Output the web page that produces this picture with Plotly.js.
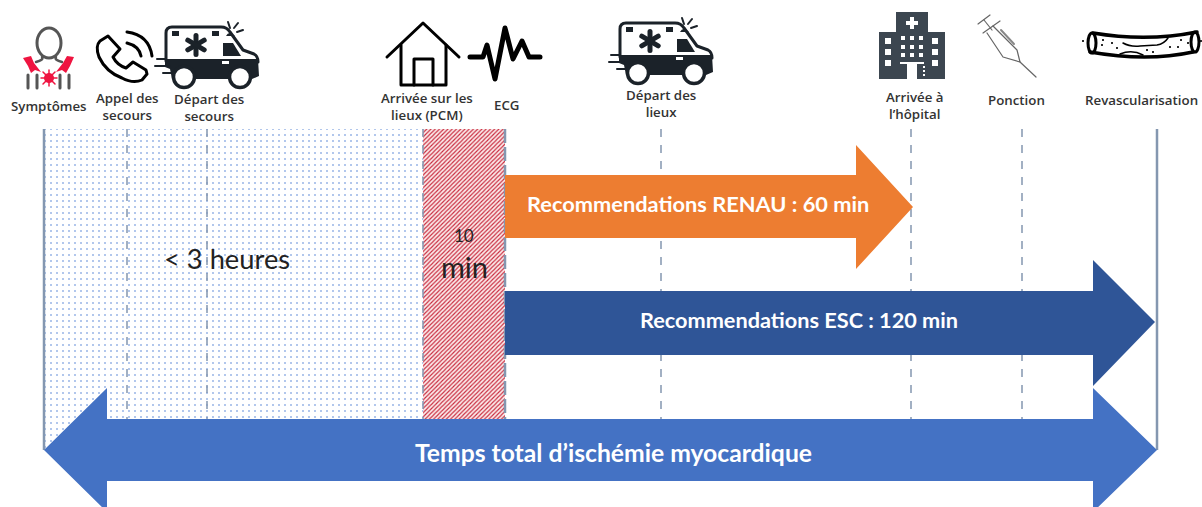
<!DOCTYPE html>
<html><head><meta charset="utf-8">
<script src="https://cdn.plot.ly/plotly-3.0.1.min.js"></script>
<style>html,body{margin:0;padding:0;background:#fff}#c{width:1202px;height:507px}</style>
</head><body><div id="c"></div>
<script>
// ---- data ----
const milestoneNames = ['Symptômes','Appel des<br>secours','Départ des<br>secours','Arrivée sur les<br>lieux (PCM)','ECG','Départ des<br>lieux','Arrivée à<br>l’hôpital','Ponction','Revascularisation'];
const milestoneLabelX = [49,127,209,427,507,661,915,1016,1141];
const milestoneLabelY = [106,106,107,106,105,103,105,100,100];
const timelineX = [44,127,207,423,505,661,911,1022,1157];
const timelineSolid = [true,false,false,false,false,false,false,false,true];
const timelineEnd = [450,419,419,419,419,419,419,419,450];
const arrowRenauX = [505,856,856,913,856,856,505,505];
const arrowRenauY = [175,175,145,207,269,238,238,175];
const arrowEscX = [505,1093,1093,1155,1093,1093,505,505];
const arrowEscY = [291,291,260,322,386,355,355,291];
const arrowTotalX = [44,107,107,1093,1093,1157,1093,1093,107,107,44];
const arrowTotalY = [450,388,419,419,388,450,512,481,481,512,450];
const textRenau = 'Recommendations RENAU : 60 min';
const textEsc = 'Recommendations ESC : 120 min';
const textTotal = 'Temps total d’ischémie myocardique';

// ---- helpers ----
const DARK='#1b2229', ICON='#000';
const shapes=[];
function p(path,o){o=o||{};shapes.push({type:'path',xref:'x',yref:'y',layer:'above',path:path,
  fillcolor:o.fill||'rgba(0,0,0,0)',line:{color:o.stroke||'rgba(0,0,0,0)',width:o.w||0}});}
function ell(cx,cy,rx,ry,o){const k=.5523;p(`M${cx-rx},${cy} C${cx-rx},${cy-k*ry} ${cx-k*rx},${cy-ry} ${cx},${cy-ry} C${cx+k*rx},${cy-ry} ${cx+rx},${cy-k*ry} ${cx+rx},${cy} C${cx+rx},${cy+k*ry} ${cx+k*rx},${cy+ry} ${cx},${cy+ry} C${cx-k*rx},${cy+ry} ${cx-rx},${cy+k*ry} ${cx-rx},${cy} Z`,o);}
function rect(x0,y0,x1,y1,o){p(`M${x0},${y0} L${x1},${y0} L${x1},${y1} L${x0},${y1} Z`,o);}
function ambulance(dx,dy){
  const X=x=>x+dx,Y=y=>y+dy;
  p(`M${X(166)},${Y(62)} L${X(166)},${Y(34)} Q${X(166)},${Y(28)} ${X(172)},${Y(28)} L${X(221)},${Y(28)} Q${X(227)},${Y(28)} ${X(230)},${Y(33)} L${X(243)},${Y(51)} L${X(254)},${Y(55)} Q${X(258)},${Y(57)} ${X(258)},${Y(63)}`,{stroke:DARK,w:3});
  p(`M${X(165)},${Y(60)} L${X(258)},${Y(60)} L${X(259)},${Y(77)} L${X(252)},${Y(80)} L${X(172)},${Y(80)} L${X(170)},${Y(70)} L${X(165)},${Y(68)} Z`,{fill:DARK});
  rect(X(222),Y(62),X(229),Y(65),{fill:'#fff'});
  rect(X(172),Y(32),X(179),Y(37),{fill:DARK});
  rect(X(212),Y(32),X(219),Y(37),{fill:DARK});
  p(`M${X(223)},${Y(44)} L${X(233)},${Y(44)} L${X(241)},${Y(57)} L${X(223)},${Y(57)} Z`,{fill:DARK});
  p(`M${X(226)},${Y(37)} Q${X(229)},${Y(31)} ${X(235)},${Y(37)} Z`,{fill:DARK});
  ell(X(184),Y(78),10.5,10.5,{fill:'#fff',stroke:DARK,w:3.5});
  ell(X(240),Y(78),10.5,10.5,{fill:'#fff',stroke:DARK,w:3.5});
  [[0,-9.5],[8.2,-4.8],[8.2,4.8]].forEach(v=>p(`M${X(196+v[0])},${Y(46+v[1])} L${X(196-v[0])},${Y(46-v[1])}`,{stroke:DARK,w:5}));
  [[228,23,230,29],[238,24,234,29],[243,31,237,33]].forEach(s=>p(`M${X(s[0])},${Y(s[1])} L${X(s[2])},${Y(s[3])}`,{stroke:DARK,w:2}));
  [[157,60,165,60],[155,67,170,67],[163,74,172,74]].forEach(s=>p(`M${X(s[0])},${Y(s[1])} L${X(s[2])},${Y(s[3])}`,{stroke:DARK,w:2}));
}
// person
const GRAY='#555', RED='#EF1440';
ell(49,43,12,15,{stroke:GRAY,w:3});
p('M42,57 Q44,60 36,62',{stroke:GRAY,w:2.5});p('M56,57 Q54,60 62,62',{stroke:GRAY,w:2.5});
[28,37,60,69].forEach(x=>p(`M${x},75 L${x},88`,{stroke:GRAY,w:3}));
p('M23,58 L31,56 L34,63 L41,72 L35,70 L31,73 L28,66 Z',{fill:RED});
p('M74,57 L67,56 L63,63 L56,72 L62,70 L66,73 L70,66 Z',{fill:RED});
ell(49,78,5,5,{fill:RED});
[[0,-8],[6,-6],[8,0],[6,6],[0,8],[-6,6],[-8,0],[-6,-6]].forEach(v=>p(`M49,78 L${49+v[0]},${78+v[1]}`,{stroke:RED,w:1.5}));
// phone
p('M108,36 L100,41 Q95,46 99,57 Q106,72 122,78 Q133,84 142,80 L147,74 L146,70 L133,62 L126,68 Q117,65 113,57 L120,49 Z',{stroke:ICON,w:3});
p('M127,32 Q149,35 152,56',{stroke:ICON,w:3});
p('M127,43 Q139,46 141,56',{stroke:ICON,w:3});
// ambulances
ambulance(0,-1);
ambulance(454,-5);
// house
p('M387,57 L423,23 L459,57',{stroke:ICON,w:3});
p('M401,45 L401,85 L446,85 L446,45',{stroke:ICON,w:3});
p('M414,85 L414,59 L433,59 L433,85',{stroke:ICON,w:3});
// ECG
p('M470,57 L483,57 L487,45 L495,79 L505,28 L513,59 L522,41 L529,57 L540,57',{stroke:ICON,w:5});
// hospital
const HOSP='#3c4650';
rect(896,12,928,79,{fill:HOSP});rect(879,32,945,79,{fill:HOSP});
rect(910,17,914,29,{fill:'#fff'});rect(906,21,918,25,{fill:'#fff'});
[888,935].forEach(x=>[41,52,63].forEach(y=>rect(x-3,y-3,x+3,y+3,{fill:'#fff'})));
[903,912,921].forEach(x=>[38,47,55].forEach(y=>rect(x-2,y-2,x+2,y+2,{fill:'#fff'})));
rect(907,64,917,79,{fill:'#fff'});rect(900,62,924,64,{fill:'#fff'});
[66,70,74].forEach(y=>rect(923,y,925,y+2,{fill:'#fff'}));
// syringe
const SY='#666';
p('M978,24 L990,15',{stroke:SY,w:1.2});p('M984,20 L992,30',{stroke:SY,w:1.2});p('M983,33 L1000,21',{stroke:SY,w:1.2});
p('M993,26 L1017,50 L1020,62 L1003,57 L987,33',{stroke:SY,w:1.2});p('M1020,62 L1036,77',{stroke:SY,w:1.2});
p('M1001,30 L1014,44',{stroke:'#888',w:2});
// artery
p('M1093,33 Q1147,42 1197,32',{stroke:ICON,w:3.5});
p('M1090,52 Q1147,62 1193,52',{stroke:ICON,w:3.5});
ell(1092,43,4,10,{stroke:ICON,w:3});ell(1195,42,4,10,{stroke:ICON,w:3});
p('M1123,43 Q1130,47 1140,46 L1157,45 Q1164,44 1168,38',{stroke:ICON,w:1.5});
p('M1120,54 Q1132,49 1143,55',{stroke:ICON,w:1.5});
[[1103,40],[1102,45],[1112,43],[1117,48],[1147,50],[1153,52],[1170,47],[1178,47],[1188,43],[1181,40],[1083,41],[1201,41]].forEach(d=>ell(d[0],d[1],1,1,{fill:ICON}));

// ---- traces ----
const traces=[];
// pattern regions
traces.push({type:'bar',x:[233.5],width:[379],base:[129],y:[321],hoverinfo:'skip',
  marker:{color:'#fff',line:{width:0},pattern:{shape:'.',fgcolor:'#4F7FD4',bgcolor:'#fff',size:6,solidity:.06}}});
traces.push({type:'bar',x:[464],width:[82],base:[129],y:[290],hoverinfo:'skip',
  marker:{color:'#fff',line:{width:0},pattern:{shape:'/',fgcolor:'#C8283C',bgcolor:'#fbeaea',size:3,solidity:.38}}});
// timeline lines
timelineX.forEach((x,i)=>{
  const dash=timelineSolid[i]?'solid':(i===4?'14px,4px':'8px,8px');
  traces.push({type:'scatter',mode:'lines',x:[x,x],y:[129,timelineEnd[i]],hoverinfo:'skip',
    line:{color:'#8497B0',width:(timelineSolid[i]||i===4)?2.5:1.5,dash:dash}});
});
function arrow(xs,ys,color){traces.push({type:'scatter',mode:'lines',x:xs,y:ys,fill:'toself',fillcolor:color,line:{width:0,color:color},hoverinfo:'skip'});}
arrow(arrowRenauX,arrowRenauY,'#ED7D31');
arrow(arrowEscX,arrowEscY,'#2F5597');
arrow(arrowTotalX,arrowTotalY,'#4472C4');

// ---- text ----
const FONT='Lato, "Open Sans", sans-serif';
const ann=[];
milestoneNames.forEach((t,i)=>ann.push({text:t,x:milestoneLabelX[i],y:milestoneLabelY[i],xref:'x',yref:'y',showarrow:false,
  font:{family:'"Open Sans"',size:13.3,color:'#333',weight:600,lineheight:1.2}}));
function big(t,x,y,size,color,w,fam){ann.push({text:t,x:x,y:y,xref:'x',yref:'y',showarrow:false,font:{family:fam||FONT,size:size,color:color,weight:w||400}});}
big('&lt; 3 heures',227,258,27.3,'#222',400);
big('10',464,235,17,'#222',400);
big('min',464,266,29,'#222',400);
big(textRenau,698,203,21.8,'#fff',700);
big(textEsc,799,320,21.7,'#fff',700);
big(textTotal,613,452,24.7,'#fff',700);

Plotly.newPlot('c',traces,{
  width:1202,height:507,margin:{l:0,r:0,t:0,b:0},showlegend:false,
  paper_bgcolor:'#fff',plot_bgcolor:'#fff',barmode:'overlay',
  xaxis:{range:[0,1202],visible:false,fixedrange:true},
  yaxis:{range:[507,0],visible:false,fixedrange:true},
  shapes:shapes,annotations:ann
},{displayModeBar:false,staticPlot:true}).then(()=>{
  document.querySelectorAll('.shapelayer path').forEach(e=>{e.style.strokeLinejoin='round';e.style.strokeLinecap='round';});
});
</script></body></html>
